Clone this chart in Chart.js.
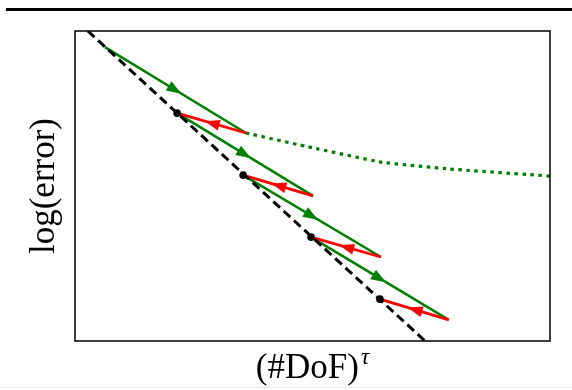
<!DOCTYPE html>
<html>
<head>
<meta charset="utf-8">
<script src="https://cdn.jsdelivr.net/npm/chart.js@4"></script>
<style>
  body { margin: 0; background: #fff; }
  #wrap { position: relative; width: 572px; height: 390px; }
  #rule { position: absolute; left: 6px; top: 8px; width: 566px; height: 3px; background: #000; }
  #foot { position: absolute; left: 0; top: 387px; width: 572px; height: 1px; background: #ececec; }
</style>
</head>
<body>
<div id="wrap">
  <canvas id="myChart" width="572" height="390"></canvas>
  <div id="rule"></div>
  <div id="foot"></div>
</div>
<script>
// reference line log(error) ~ -(#DoF)^tau
var dashX = [0.27, 7.37];
var dashY = [10, 0];

// points where the red (coarsening) step ends
var dotX = [2.15, 3.54, 4.97, 6.42];
var dotY = [7.35, 5.35, 3.35, 1.35];

// green refinement steps: start -> turn point
var greenFromX = [0.63, 2.15, 3.54, 4.97];
var greenFromY = [9.48, 7.35, 5.35, 3.35];
var turnX = [3.60, 5.01, 6.44, 7.87];
var turnY = [6.71, 4.68, 2.71, 0.68];

// dotted green continuation (no coarsening)
var dottedX = [3.60, 5.01, 6.44, 7.87, 10];
var dottedY = [6.71, 6.23, 5.77, 5.55, 5.32];

var xLabel = '(#DoF)';
var xSup = 'τ';
var yLabel = 'log(error)';

function pts(xs, ys) {
  return xs.map(function (x, i) { return { x: x, y: ys[i] }; });
}

var datasets = [];
datasets.push({
  data: pts(dotX, dotY), showLine: false,
  pointRadius: 3.8, pointBackgroundColor: '#000', pointBorderWidth: 0, order: 0
});
datasets.push({
  data: pts(dashX, dashY), showLine: true, borderColor: '#000', borderWidth: 3,
  borderDash: [9, 5], pointRadius: 0, order: 1
});
for (var i = 0; i < turnX.length; i++) {
  datasets.push({
    data: [{ x: turnX[i], y: turnY[i] }, { x: dotX[i], y: dotY[i] }],
    showLine: true, borderColor: '#ff0000', borderWidth: 2.8, pointRadius: 0,
    arrow: '#ff0000', order: 2
  });
  datasets.push({
    data: [{ x: greenFromX[i], y: greenFromY[i] }, { x: turnX[i], y: turnY[i] }],
    showLine: true, borderColor: '#008000', borderWidth: 2.5, pointRadius: 0,
    arrow: '#008000', order: 3
  });
}
datasets.push({
  data: pts(dottedX, dottedY), showLine: true, borderColor: '#008000', borderWidth: 3.2,
  borderDash: [3.5, 4.5], pointRadius: 0, tension: 0.1, order: 4
});

var frame = {
  id: 'frame',
  afterDatasetsDraw: function (chart) {
    var ctx = chart.ctx;
    // arrow heads in the middle of each step
    chart.data.datasets.forEach(function (ds, k) {
      if (!ds.arrow) return;
      var m = chart.getDatasetMeta(k).data;
      var a = m[0], b = m[1];
      var dx = b.x - a.x, dy = b.y - a.y;
      var len = Math.sqrt(dx * dx + dy * dy);
      var ux = dx / len, uy = dy / len;
      var cx = (a.x + b.x) / 2, cy = (a.y + b.y) / 2;
      var tipX = cx + ux * 7, tipY = cy + uy * 7;
      var bx = cx - ux * 8, by = cy - uy * 8;
      ctx.save();
      ctx.fillStyle = ds.arrow;
      ctx.beginPath();
      ctx.moveTo(tipX, tipY);
      ctx.lineTo(bx - uy * 5.5, by + ux * 5.5);
      ctx.lineTo(bx + uy * 5.5, by - ux * 5.5);
      ctx.closePath();
      ctx.fill();
      ctx.restore();
    });
  },
  afterDraw: function (chart) {
    var ctx = chart.ctx, area = chart.chartArea;
    ctx.save();
    ctx.strokeStyle = '#000';
    ctx.lineWidth = 1.5;
    ctx.strokeRect(area.left, area.top, area.right - area.left, area.bottom - area.top);

    ctx.fillStyle = '#000';
    ctx.font = '35px "Liberation Serif"';
    var w1 = ctx.measureText(xLabel).width;
    ctx.font = 'italic 23px "Liberation Serif"';
    var w2 = ctx.measureText(xSup).width;
    var x0 = (area.left + area.right) / 2 - (w1 + w2 + 2) / 2;
    ctx.textBaseline = 'alphabetic';
    ctx.textAlign = 'left';
    ctx.font = '35px "Liberation Serif"';
    ctx.fillText(xLabel, x0, 378);
    ctx.font = 'italic 23px "Liberation Serif"';
    ctx.fillText(xSup, x0 + w1 + 2, 364);

    ctx.translate(45, (area.top + area.bottom) / 2);
    ctx.rotate(-Math.PI / 2);
    ctx.textAlign = 'center';
    ctx.textBaseline = 'middle';
    ctx.font = '35px "Liberation Serif"';
    ctx.fillText(yLabel, 0, 0);
    ctx.restore();
  }
};

window.onload = function () {
  var ctx = document.getElementById('myChart');
  var myChart = new Chart(ctx, {
    type: 'scatter',
    data: { datasets: datasets },
    options: {
      responsive: false,
      animation: false,
      layout: { padding: { left: 75, right: 22, top: 31, bottom: 49 } },
      plugins: { legend: { display: false }, tooltip: { enabled: false } },
      scales: {
        x: { type: 'linear', min: 0, max: 10, display: false },
        y: { type: 'linear', min: 0, max: 10, display: false }
      }
    },
    plugins: [frame]
  });
};
</script>
</body>
</html>
